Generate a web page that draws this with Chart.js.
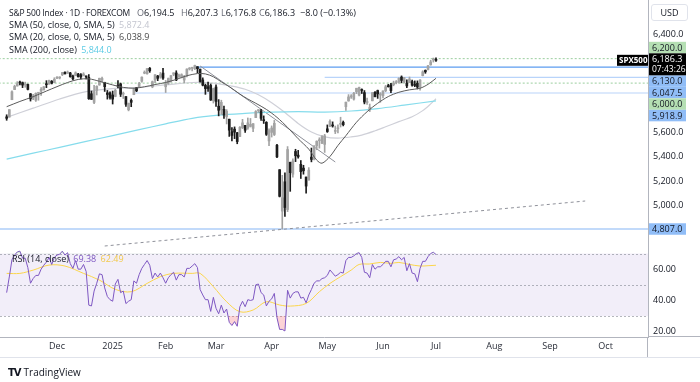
<!DOCTYPE html>
<html><head><meta charset="utf-8">
<script src="https://cdn.jsdelivr.net/npm/chart.js@4.4.1/dist/chart.umd.min.js"></script>
<style>
html,body{margin:0;padding:0;background:#fff;width:700px;height:382px;overflow:hidden;font-family:"Open Sans",sans-serif;}
canvas{position:absolute;left:0;}
#c1{top:0;}
#c2{top:249px;}
.t{position:absolute;font-size:9px;white-space:nowrap;line-height:12px;color:#131722;}
.g{color:#6a6d78;}
#usd{position:absolute;left:651px;top:4px;width:37px;height:17px;border:1px solid #e0e3eb;border-radius:3px;font-size:9px;line-height:16px;text-align:center;color:#131722;box-sizing:border-box;}
#logo{position:absolute;left:8px;top:365px;font-size:10px;line-height:14px;color:#131722;white-space:nowrap;}
#logo b{font-family:"DejaVu Sans",sans-serif;font-weight:900;font-size:10px;letter-spacing:-1px;margin-right:3px;}
</style></head><body>
<canvas id="c1" width="700" height="249" style="width:700px;height:249px"></canvas>
<canvas id="c2" width="700" height="133" style="width:700px;height:133px"></canvas>

<div class="t" style="left:9px;top:7px;font-size:8.5px;letter-spacing:-0.2px">S&amp;P 500 Index · 1D · FOREXCOM</div>
<div class="t" style="left:137px;top:7px"><span class="g">O</span>6,194.5</div>
<div class="t" style="left:181px;top:7px"><span class="g">H</span>6,207.3</div>
<div class="t" style="left:221px;top:7px"><span class="g">L</span>6,176.8</div>
<div class="t" style="left:259px;top:7px"><span class="g">C</span>6,186.3</div>
<div class="t" style="left:300px;top:7px">−8.0 (−0.13%)</div>
<div class="t" style="left:9px;top:19px">SMA (50, close, 0, SMA, 5) <span style="color:#c3c5cf;margin-left:2px">5,872.4</span></div>
<div class="t" style="left:9px;top:31px">SMA (20, close, 0, SMA, 5) <span style="color:#4a4a4a;margin-left:2px">6,038.9</span></div>
<div class="t" style="left:9px;top:43.5px">SMA (200, close) <span style="color:#5ccbe4;margin-left:2px">5,844.0</span></div>
<div class="t" style="left:12px;top:253px">RSI (14, close) <span style="color:#7e57c2;margin-left:2px">69.38</span> <span style="color:#f2c94c;margin-left:2px">62.49</span></div>
<div id="usd">USD</div>
<div id="logo"><b>TV</b>TradingView</div>

<script>
// ---------- DATA ----------
// daily bars, index 0 = 4 Nov 2024 ... index 162 = 1 Jul 2025
const opens = [
5724,5722,5864,5947,5976,6008,6003,5985,5989,5912,5878,5860,5917,5934,5944,5992,5992,6015,6003,
6040,6042,6069,6089,6081,6083,6057,6061,6074,6068,6063,6053,6047,5913,5842,5940,5985,6024,6006,5920,5920,
5903,5891,5982,5993,5910,5890,5782,5859,5905,5962,5969,6015,6081,6076,6121,5969,6026,6058,6050,6082,
5970,5998,6020,6072,6083,6049,6049,6025,6060,6115,6121,6117,6134,6114,6026,5982,5970,5981,5856,
5968,5811,5781,5785,5726,5705,5603,5624,5594,5563,5635,5654,5632,5646,5630,5718,5775,5772,5696,5679,5527,
5597,5580,5492,5292,4953,5193,4966,5353,5255,5441,5411,5336,5305,5232,5207,5395,5381,5489,5529,5508,5499,
5626,5645,5655,5605,5626,5663,5679,5807,5854,5887,5869,5929,5902,5944,5922,5841,5781,5855,5925,5939,5903,
5897,5938,5979,5985,5987,6004,6009,6049,6009,6000,6004,6012,5987,5999,5969,6061,6104,6112,6150,6190,
6194.5];
const highs = [
5741,5783,5936,5983,6012,6017,6009,6008,5993,5915,5909,5920,5921,5963,5972,6020,6025,6021,6044,
6053,6052,6088,6092,6099,6088,6065,6092,6080,6078,6085,6058,6070,5935,5982,5978,6040,6049,6007,5940,5929,
5935,5949,6021,6000,5927,5890,5836,5871,5960,5964,6007,6051,6100,6118,6128,6017,6069,6063,6087,6120,
6022,6042,6062,6084,6101,6073,6076,6063,6116,6127,6129,6147,6134,6114,6043,5992,6009,5993,5959,
5986,5865,5860,5812,5783,5705,5636,5642,5597,5645,5704,5654,5715,5711,5670,5775,5783,5786,5732,5685,5627,
5650,5695,5500,5292,5246,5267,5481,5353,5381,5459,5450,5367,5328,5232,5309,5469,5489,5528,5553,5571,5581,
5658,5700,5683,5649,5659,5721,5690,5845,5906,5906,5924,5958,5968,5953,5939,5878,5829,5922,5930,5943,5922,
5937,5981,5990,5999,6016,6021,6043,6059,6045,6026,6050,6024,6018,6018,6028,6101,6108,6146,6187,6205,
6207.3];
const lows = [
5696,5722,5864,5947,5976,5986,5963,5966,5945,5853,5865,5850,5860,5900,5944,5963,5992,5993,6003,
6036,6034,6061,6075,6079,6048,6027,6060,6050,6035,6059,6034,5867,5866,5832,5903,5982,6007,5932,5869,5869,
5829,5888,5960,5890,5874,5809,5773,5807,5905,5930,5969,6007,6076,6074,6088,5962,6003,6020,6040,6030,
5923,5990,6007,6060,6020,6048,6042,6003,6050,6107,6099,6111,6084,6008,5977,5908,5932,5858,5837,
5810,5732,5743,5711,5666,5564,5528,5546,5504,5563,5628,5597,5622,5641,5603,5718,5760,5694,5670,5572,5489,
5559,5571,5390,5069,4807,4910,4949,5115,5230,5358,5386,5220,5255,5101,5207,5356,5371,5455,5468,5505,5433,
5597,5644,5640,5587,5593,5641,5650,5776,5852,5875,5861,5914,5895,5915,5830,5826,5767,5855,5886,5875,5843,
5879,5929,5967,5921,5978,5994,6000,6002,6003,5963,6004,5974,5971,5952,5943,6059,6080,6107,6146,6172,
6176.8];
const closes = [
5712,5783,5929,5973,5995,6001,5984,5985,5949,5871,5894,5917,5917,5949,5969,5987,6022,5999,6032,
6047,6050,6086,6075,6090,6053,6035,6084,6051,6051,6074,6051,5872,5867,5931,5974,6040,6038,5971,5907,5882,
5869,5942,5975,5909,5918,5827,5836,5843,5950,5937,5997,6049,6086,6119,6101,6012,6068,6039,6071,6041,
5995,6038,6061,6084,6026,6066,6069,6052,6115,6115,6130,6144,6118,6013,5983,5955,5956,5862,5955,
5850,5778,5843,5739,5770,5615,5572,5599,5522,5639,5675,5615,5675,5663,5668,5768,5777,5712,5693,5581,5612,
5633,5671,5397,5074,5062,4983,5457,5268,5363,5406,5397,5276,5283,5158,5288,5376,5485,5525,5529,5561,5569,
5604,5687,5650,5607,5631,5664,5660,5844,5887,5893,5917,5958,5964,5940,5845,5842,5803,5922,5889,5912,5912,
5936,5970,5971,5939,6000,6006,6039,6022,6045,5977,6033,5983,5981,5968,6025,6092,6092,6141,6173,6194.3,
6186.3];

const rsi = [
45,55,66,69,71,71.5,67,67,61,51,54,56,56,60,62.5,64.5,67.5,63,67.5,
69,69.5,71.5,69,70.5,63.5,60.5,65.5,60,60,63,58.5,37,36.5,46,51,57,56.5,48,42.5,40.5,
39.5,50.5,53.5,45,46,38,39.5,40.5,52.5,51,56.5,60.5,63,65.5,62.5,54,57.5,55,57.5,54.5,
51,54.5,56.5,58,53,56.5,56.5,55,60.5,60.5,62,63.5,61,47,43.5,40.5,40.5,33,42,
35,31.5,37,32,34.5,26,24,26.5,23.5,36,39.5,36,40.5,40,40.5,50,50.5,45,43.5,36.5,39.5,
41,44.5,29,21.5,21.5,20.5,46.5,41.5,44.5,45.5,45.5,41.5,42,38.5,43.5,47,51,52.5,52.5,54,54.5,
56,59.5,57.5,55.5,56.5,58,57.5,65.5,67.5,67.5,68.5,70,70.5,67.5,58,57.5,54.5,63,60,61.5,61.5,
63,65,65,61.5,66,66.5,68,66,67.5,59,63.5,57.5,57,52,60.5,65,65,68,70,70.8,
69.38];

// readings of the smooth lines (bar index -> value)
const rsiMaIdx = [0,5,10,16,22,29,35,41,47,53,58,63,70,73,78,83,88,93,98,103,107,113,118,122,126,130,133,137,141,145,148,152,156,159,162];
const rsiMaVal = [57.3,57.3,59.4,62.6,62,57.3,53,47.1,45.6,50.9,55.2,57.3,57.3,57.3,48.8,39.2,32.8,33.9,39.2,37.1,36.4,38.1,45.6,50.9,55.2,59.4,63,63.3,64.3,63.7,64.3,63,62,62.2,62.49];

const sma20Idx = [0,5,10,15,19,23,27,31,35,40,44,48,52,56,60,64,68,72,75,78,81,84,88,91,94,98,102,106,110,114,117,119,122,125,128,132,136,140,144,148,152,156,159,162];
const sma20Val = [5807,5850,5889,5935,5971,6005,6030,6035,6015,5985,5965,5958,5970,5988,6005,6030,6060,6078,6075,6052,6010,5971,5910,5870,5835,5785,5720,5638,5545,5460,5370,5345,5400,5490,5570,5680,5766,5835,5890,5925,5945,5958,5990,6039];

const sma50Idx = [0,10,20,30,40,50,60,70,78,85,90,95,100,105,110,115,120,125,130,134,139,143,148,153,157,160,162];
const sma50Val = [5720,5795,5870,5930,5955,5965,5985,6005,6000,5975,5950,5905,5840,5760,5670,5600,5560,5550,5560,5575,5610,5643,5685,5725,5775,5830,5872];

const sma200Idx = [0,10,20,30,40,50,60,70,80,90,100,110,120,130,140,150,162];
const sma200Val = [5379,5427,5475,5523,5571,5619,5667,5712,5738,5752,5762,5766,5763,5772,5792,5820,5855];

// month tick labels on the time axis (bar index of first session)
const monthTickIdx = [19,40,60,79,100,121,142,162,184,205,226];
const monthLabels = ['Dec','2025','Feb','Mar','Apr','May','Jun','Jul','Aug','Sep','Oct'];

const priceTicks = [6400,5600,5400,5200,5000];
const rsiTicks = [60,40,20];
const rsiBands = [70,50,30];

// horizontal levels and where they start (bar index)
const levelValues = [6200, 6130, 6047.5, 6000, 5918.9, 4807];
const levelFromIdx = [-3, 71, 120, -3, 48, -3];
const levelKinds = ['green','blue','lightblue','green','lightblue','blue2'];

// drawn trend lines
const trendSolidIdx = [73, 124];
const trendSolidVal = [6140, 5355];
const trendDashIdx = [37, 218.3];
const trendDashVal = [4668, 5036];

const lastClose = 6186.3;
const countdown = '07:43:26';

// ---------- CHART ----------
const FONT = '"Open Sans", sans-serif';
Chart.defaults.font.family = FONT;
Chart.defaults.font.size = 9;
Chart.defaults.color = '#131722';
const X_MIN = -2.51, X_MAX = 242.0;
const AXIS_W = 52;
const FRAME = '#b2b5be';

const pts = (xs, ys) => xs.map((x, i) => ({x, y: ys[i]}));
const idxs = closes.map((_, i) => i);
const upC = '#a3a3a3', dnC = '#1c1c1c';
const candleCol = idxs.map(i => closes[i] >= opens[i] ? upC : dnC);
const fmtPrice = v => v.toLocaleString('en-US', {minimumFractionDigits: 1, maximumFractionDigits: 1});

const levelStyle = {
  green: {c: 'rgba(120,190,125,0.75)', d: [2, 2], w: 1},
  blue: {c: '#5d9cf0', d: [], w: 1.2},
  lightblue: {c: '#b9d4fa', d: [], w: 1.2},
  blue2: {c: '#86b6f5', d: [], w: 1.2}
};
const badgeCol = {green: '#b5dfb3', blue: '#90bdf7', lightblue: '#90bdf7', blue2: '#90bdf7'};

const levelSets = levelValues.map((v, i) => ({
  type: 'line', order: 20,
  data: [{x: levelFromIdx[i], y: v}, {x: X_MAX + 5, y: v}],
  borderColor: levelStyle[levelKinds[i]].c, borderDash: levelStyle[levelKinds[i]].d,
  borderWidth: levelStyle[levelKinds[i]].w, pointRadius: 0
}));

const badgePlugin = {
  id: 'badges',
  afterDraw(chart) {
    const ctx = chart.ctx, ys = chart.scales.y;
    const bx = chart.chartArea.right + 1, bw = 37, lh = 11.5;
    ctx.save();
    ctx.font = '9px ' + FONT;
    ctx.textBaseline = 'middle';
    const pc = ys.getPixelForValue(lastClose);
    const boxTop = pc - 7, boxBot = boxTop + 22;
    const above = [], below = [];
    levelValues.forEach((v, i) => (v > lastClose ? above : below).push(i));
    above.sort((a, b) => levelValues[a] - levelValues[b]);
    below.sort((a, b) => levelValues[b] - levelValues[a]);
    let limit = boxTop;
    const place = [];
    above.forEach(i => {
      let c = ys.getPixelForValue(levelValues[i]);
      c = Math.min(c, limit - lh / 2);
      limit = c - lh / 2;
      place.push([i, c]);
    });
    limit = boxBot;
    below.forEach(i => {
      let c = ys.getPixelForValue(levelValues[i]);
      c = Math.max(c, limit + lh / 2);
      limit = c + lh / 2;
      place.push([i, c]);
    });
    place.forEach(([i, c]) => {
      ctx.fillStyle = badgeCol[levelKinds[i]];
      ctx.fillRect(bx, c - lh / 2, bw, lh);
      ctx.fillStyle = '#131722';
      ctx.fillText(fmtPrice(levelValues[i]), bx + 3, c + 0.5);
    });
    ctx.fillStyle = '#000';
    ctx.fillRect(bx, boxTop, bw, 22);
    ctx.fillStyle = '#fff';
    ctx.fillText(fmtPrice(lastClose), bx + 3, boxTop + 6.5);
    ctx.font = '8.5px ' + FONT;
    ctx.fillText(countdown, bx + 3, boxTop + 16);
    const tx = chart.chartArea.right - 31;
    ctx.fillStyle = '#000';
    ctx.fillRect(tx, pc - 5.5, 31, 11);
    ctx.fillStyle = '#fff';
    ctx.font = 'bold 8px ' + FONT;
    ctx.fillText('SPX500', tx + 2, pc + 0.5);
    ctx.restore();
  }
};

new Chart(document.getElementById('c1'), {
  type: 'line',
  data: {
    datasets: [
      ...levelSets,
      {type: 'line', order: 15, data: pts(trendSolidIdx, trendSolidVal), borderColor: '#8e9099', borderWidth: 1, pointRadius: 0},
      {type: 'line', order: 15, data: pts(trendDashIdx, trendDashVal), borderColor: '#8e9099', borderWidth: 1, borderDash: [3, 3], pointRadius: 0},
      {type: 'line', order: 10, data: pts(sma200Idx, sma200Val), borderColor: '#86dcec', borderWidth: 1.2, pointRadius: 0, tension: 0.3},
      {type: 'line', order: 10, data: pts(sma50Idx, sma50Val), borderColor: '#cfd0d8', borderWidth: 1.2, pointRadius: 0, tension: 0.3},
      {type: 'line', order: 2, data: pts(sma20Idx, sma20Val), borderColor: '#5a5a5a', borderWidth: 1, pointRadius: 0, tension: 0.3},
      {type: 'bar', order: 5, data: idxs.map(i => ({x: i, y: [lows[i], highs[i]]})), backgroundColor: candleCol, barThickness: 1, grouped: false},
      {type: 'bar', order: 4, data: idxs.map(i => ({x: i, y: [opens[i], closes[i]]})), backgroundColor: candleCol, barThickness: 2, minBarLength: 1, grouped: false}
    ]
  },
  options: {
    responsive: false, animation: false, devicePixelRatio: 1,
    layout: {padding: 0},
    plugins: {legend: {display: false}, tooltip: {enabled: false}},
    scales: {
      x: {type: 'linear', min: X_MIN, max: X_MAX, display: false, offset: false},
      y: {
        position: 'right', min: 4643.5, max: 6679.5, beginAtZero: false,
        grid: {display: false, drawTicks: false},
        border: {display: true, color: FRAME},
        ticks: {padding: 5, color: '#131722', callback: v => fmtPrice(v)},
        afterBuildTicks: s => { s.ticks = priceTicks.map(v => ({value: v})); },
        afterFit: s => { s.width = AXIS_W; s.paddingTop = 0; s.paddingBottom = 0; }
      }
    }
  },
  plugins: [badgePlugin]
});

const bandPlugin = {
  id: 'rsiBand',
  beforeDatasetsDraw(chart) {
    const ctx = chart.ctx, ys = chart.scales.y, a = chart.chartArea;
    ctx.save();
    const y70 = ys.getPixelForValue(rsiBands[0]), y30 = ys.getPixelForValue(rsiBands[2]);
    ctx.fillStyle = 'rgba(126,87,194,0.1)';
    ctx.fillRect(a.left, y70, a.right - a.left, y30 - y70);
    ctx.strokeStyle = 'rgba(120,123,134,0.55)';
    ctx.setLineDash([2, 2]);
    ctx.lineWidth = 1;
    rsiBands.forEach(v => {
      const y = Math.round(ys.getPixelForValue(v)) + 0.5;
      ctx.beginPath(); ctx.moveTo(a.left, y); ctx.lineTo(a.right, y); ctx.stroke();
    });
    ctx.restore();
  },
  afterDraw(chart) {
    const ctx = chart.ctx, a = chart.chartArea;
    ctx.save();
    ctx.strokeStyle = FRAME;
    ctx.lineWidth = 1;
    const xr = Math.round(a.right) - 0.5, yb = Math.round(a.bottom) - 0.5, yf = yb + 21;
    ctx.beginPath();
    ctx.moveTo(xr, a.bottom); ctx.lineTo(xr, yf);
    ctx.moveTo(a.right, yb); ctx.lineTo(chart.width, yb);
    ctx.stroke();
    ctx.strokeStyle = '#e0e3eb';
    ctx.beginPath();
    ctx.moveTo(0, yf); ctx.lineTo(chart.width, yf);
    ctx.stroke();
    ctx.restore();
  }
};

new Chart(document.getElementById('c2'), {
  type: 'line',
  data: {
    datasets: [
      {data: idxs.map(i => ({x: i, y: rsi[i]})), borderColor: 'rgba(0,0,0,0)', borderWidth: 0, pointRadius: 0,
       fill: {target: {value: 70}, above: 'rgba(76,175,80,0.18)', below: 'rgba(0,0,0,0)'}},
      {data: idxs.map(i => ({x: i, y: rsi[i]})), borderColor: '#7e57c2', borderWidth: 1, pointRadius: 0,
       fill: {target: {value: 30}, above: 'rgba(0,0,0,0)', below: 'rgba(242,54,69,0.22)'}},
      {data: pts(rsiMaIdx, rsiMaVal), borderColor: '#fbd54a', borderWidth: 1, pointRadius: 0, tension: 0.35, fill: false}
    ]
  },
  options: {
    responsive: false, animation: false, devicePixelRatio: 1,
    layout: {padding: {bottom: 24}},
    plugins: {legend: {display: false}, tooltip: {enabled: false}},
    scales: {
      x: {
        type: 'linear', min: X_MIN, max: X_MAX, offset: false,
        grid: {display: false, drawTicks: false},
        border: {display: true, color: FRAME},
        ticks: {padding: 4, autoSkip: false, maxRotation: 0, color: '#2a2e39',
                callback: v => { const k = monthTickIdx.indexOf(v); return k >= 0 ? monthLabels[k] : ''; }},
        afterBuildTicks: s => { s.ticks = monthTickIdx.map(v => ({value: v})); },
        afterFit: s => { s.height = 21; s.paddingLeft = 0; s.paddingRight = 0; }
      },
      y: {
        position: 'right', min: 16.65, max: 72.88,
        grid: {display: false, drawTicks: false},
        border: {display: true, color: FRAME},
        ticks: {padding: 5, color: '#131722', callback: v => v.toFixed(2)},
        afterBuildTicks: s => { s.ticks = rsiTicks.map(v => ({value: v})); },
        afterFit: s => { s.width = AXIS_W; s.paddingTop = 0; s.paddingBottom = 0; }
      }
    }
  },
  plugins: [bandPlugin]
});
</script>
</body></html>
